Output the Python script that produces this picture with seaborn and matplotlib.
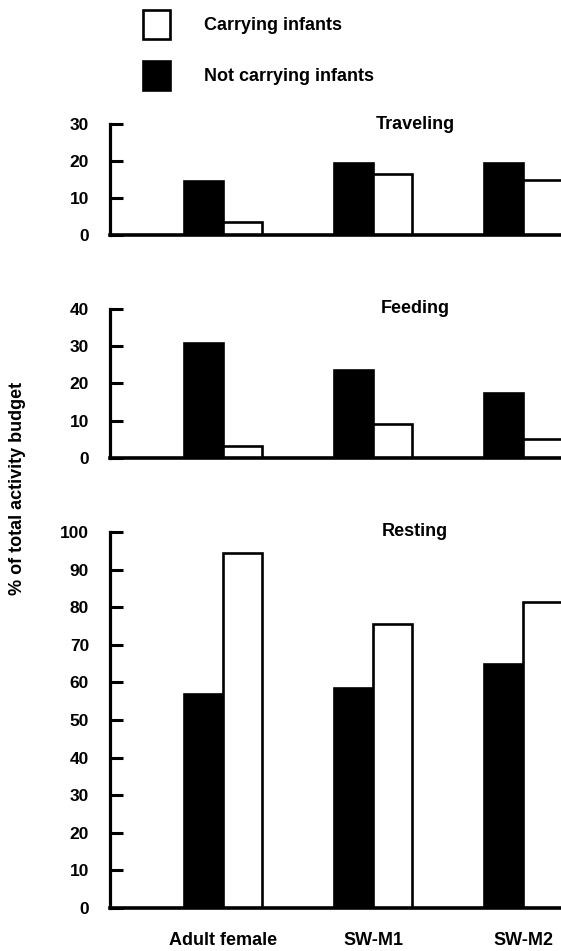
import numpy as np
import pandas as pd
import seaborn as sns
import matplotlib.pyplot as plt

sns.set_style("ticks")
plt.rcParams['font.family'] = ['Liberation Sans', 'DejaVu Sans']
plt.rcParams['text.color'] = 'black'
plt.rcParams['axes.edgecolor'] = 'black'
plt.rcParams['xtick.color'] = 'black'
plt.rcParams['ytick.color'] = 'black'
plt.rcParams['font.weight'] = 'bold'

individuals = ["Adult female", "SW-M1", "SW-M2"]
conditions = ["Not carrying infants", "Carrying infants"]

traveling_not = [14.5, 19.5, 19.5]
traveling_carry = [3.5, 16.5, 15]
feeding_not = [31, 23.5, 17.5]
feeding_carry = [3.2, 9, 5]
resting_not = [57, 58.5, 65]
resting_carry = [94.3, 75.5, 81.5]


def make_frame(not_vals, carry_vals):
    rows = {'Individual': [], 'Condition': [], 'Percent': []}
    for cond, vals in zip(conditions, [not_vals, carry_vals]):
        for ind, v in zip(individuals, vals):
            rows['Individual'].append(ind)
            rows['Condition'].append(cond)
            rows['Percent'].append(v)
    return pd.DataFrame.from_dict(rows)


panels = [
    ("Traveling", make_frame(traveling_not, traveling_carry), 30, 10, [0.7529, 0.1167]),
    ("Feeding", make_frame(feeding_not, feeding_carry), 40, 10, [0.5184, 0.1567]),
    ("Resting", make_frame(resting_not, resting_carry), 100, 10, [0.0452, 0.3954]),
]

palette = {"Not carrying infants": "black", "Carrying infants": "white"}

fig = plt.figure(figsize=(5.61, 9.51), dpi=100)
axes = []
for title, df, ymax, step, (bottom, height) in panels:
    ax = fig.add_axes([0.196, bottom, 0.804, height])
    sns.barplot(data=df, x='Individual', y='Percent', hue='Condition',
                hue_order=conditions, palette=palette, saturation=1,
                edgecolor='black', linewidth=1.9, width=0.52,
                errorbar=None, legend=(title == "Resting"), ax=ax)
    ax.set_xlim(-0.753, 2.253)
    ax.set_ylim(0, ymax)
    ax.set_yticks(np.arange(0, ymax + 1, step))
    ax.set_xlabel("")
    ax.set_ylabel("")
    sns.despine(ax=ax)
    ax.spines['left'].set_linewidth(2.3)
    ax.spines['bottom'].set_linewidth(2.6)
    ax.spines['left'].set_bounds(0, ymax)
    ax.tick_params(axis='y', direction='in', length=9, width=2.2,
                   labelsize=12.5, pad=15)
    ax.tick_params(axis='x', length=0, labelsize=13, pad=17)
    if title != "Resting":
        ax.set_xticklabels([])
    ax.text(0.676, 1.0, title, transform=ax.transAxes, ha='center',
            va='center', fontsize=13)
    axes.append(ax)

handles, labels = axes[-1].get_legend_handles_labels()
axes[-1].get_legend().remove()
fig.legend(handles[::-1], labels[::-1], loc='upper left',
           bbox_to_anchor=(0.233, 1.003), frameon=False, fontsize=13,
           handlelength=1.5, handleheight=2.1, labelspacing=1.2,
           handletextpad=1.85, borderaxespad=0.3)

fig.text(0.031, 0.486, "% of total activity budget", rotation=90,
         ha='center', va='center', fontsize=13)

fig.savefig("out.png", dpi=100)
